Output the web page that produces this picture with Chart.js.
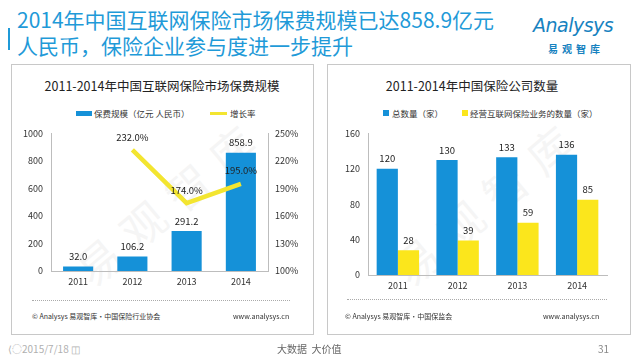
<!DOCTYPE html>
<html><head><meta charset="utf-8">
<script src="https://cdn.jsdelivr.net/npm/chart.js@4"></script>
<style>
body{margin:0;width:640px;height:360px;background:#fff;position:relative;overflow:hidden;font-family:"Noto Sans CJK SC","Noto Sans",sans-serif;}
.abs{position:absolute;white-space:nowrap;}
.box{position:absolute;border:1px solid #c8c8c8;background:#fff;}
.ctitle{position:absolute;font-size:12.5px;color:#222;text-align:center;}
.leg{position:absolute;font-size:8.5px;color:#333;}
.foot{position:absolute;font-size:7px;color:#333;}
.dots{position:absolute;height:0;border-top:1px dotted #aaa;}
.wm{position:absolute;font-size:44px;color:#000;opacity:0.035;transform:rotate(-40deg);transform-origin:left top;letter-spacing:14px;}
canvas{position:absolute;}
</style></head><body>
<div class="abs" style="left:8px;top:28px;width:2px;height:22px;background:#1f9ad8;"></div>
<div class="abs" style="left:17px;top:6px;font-size:21px;line-height:26px;color:#1f9ad8;">2014年中国互联网保险市场保费规模已达858.9亿元<br>人民币，保险企业参与度进一步提升</div>
<div class="abs" style="left:533px;top:14px;font-size:19px;font-style:italic;color:#1782c0;font-family:'DejaVu Sans';letter-spacing:-0.5px;">Analysys</div>
<div class="abs" style="left:548px;top:41px;font-size:10px;font-weight:bold;color:#1782c0;letter-spacing:4px;">易观智库</div>

<div class="box" style="left:11px;top:64px;width:301px;height:269px;"></div>
<div class="box" style="left:327px;top:64px;width:302px;height:269px;"></div>

<div class="ctitle" style="left:11px;top:76px;width:302px;">2011-2014年中国互联网保险市场保费规模</div>
<div class="ctitle" style="left:327px;top:76px;width:290px;">2011-2014年中国保险公司数量</div>

<div class="abs" style="left:76px;top:111px;width:16px;height:5px;background:#1591d8;"></div>
<div class="leg" style="left:94px;top:107px;">保费规模（亿元 人民币）</div>
<div class="abs" style="left:210px;top:112px;width:17px;height:3px;background:#f3e530;"></div>
<div class="leg" style="left:230px;top:107px;">增长率</div>

<div class="abs" style="left:383px;top:110px;width:6px;height:6px;background:#1591d8;"></div>
<div class="leg" style="left:392px;top:107px;">总数量（家）</div>
<div class="abs" style="left:462px;top:110px;width:6px;height:6px;background:#fbe61c;"></div>
<div class="leg" style="left:470px;top:107px;">经营互联网保险业务的数量（家）</div>

<div class="wm" style="left:60px;top:250px;">易观智库</div>
<div class="wm" style="left:378px;top:250px;">易观智库</div>

<canvas id="c1" width="300" height="178" style="left:11px;top:120px;"></canvas>
<canvas id="c2" width="300" height="182" style="left:327px;top:120px;"></canvas>

<div class="dots" style="left:32px;top:300px;width:258px;"></div>
<div class="dots" style="left:347px;top:299px;width:260px;"></div>
<div class="foot" style="left:32px;top:311px;">© Analysys 易观智库·中国保险行业协会</div>
<div class="foot" style="left:233px;top:311px;">www.analysys.cn</div>
<div class="foot" style="left:345px;top:311px;">© Analysys 易观智库·中国保监会</div>
<div class="foot" style="left:543px;top:311px;">www.analysys.cn</div>

<div class="abs" style="left:8px;top:341px;font-size:10px;color:#b0b0b0;">⟨◌2015/7/18 ◫</div>
<div class="abs" style="left:277px;top:341px;font-size:10px;color:#666;">大数据&nbsp;&nbsp;大价值</div>
<div class="abs" style="left:598px;top:341px;font-size:10px;color:#888;">31</div>

<script>
const years = ['2011','2012','2013','2014'];
const premium = [32.0, 106.2, 291.2, 858.9];
const growth = [null, 232.0, 174.0, 195.0];
const totalCompanies = [120, 130, 133, 136];
const onlineCompanies = [28, 39, 59, 85];
const leftAxis = {min:0, max:1000, step:200};
const rightAxis = {min:100, max:250, step:30};
const countAxis = {min:0, max:160, step:40};

const FONT = '"Noto Sans CJK SC","Noto Sans",sans-serif';
const BLUE = '#1591d8', YELLOW = '#f3e530', YBAR = '#fbe61c', AXIS = '#bdbdbd';

const valueLabels = {
  id:'valueLabels',
  afterDatasetsDraw(chart){
    const ctx = chart.ctx;
    ctx.save();
    ctx.font = '9.5px ' + FONT;
    ctx.fillStyle = '#222';
    ctx.textAlign = 'center';
    ctx.textBaseline = 'middle';
    chart.data.datasets.forEach((ds, i) => {
      const meta = chart.getDatasetMeta(i);
      meta.data.forEach((el, j) => {
        const v = ds.data[j];
        if (v === null || v === undefined) return;
        const txt = ds.fmt ? ds.fmt(v) : String(v);
        const off = ds.type === 'line' ? 13 : 10;
        ctx.fillText(txt, el.x, el.y - off);
      });
    });
    ctx.restore();
  }
};

function yScale(cfg, pos, width, pad, cb){
  return {
    position: pos, min: cfg.min, max: cfg.max,
    grid:{display:false, drawTicks:false}, border:{display:true, color:AXIS},
    ticks:{stepSize:cfg.step, padding:pad, color:'#333', font:{size:9, family:FONT}, callback: cb},
    afterFit(s){ s.width = width; }
  };
}
function xScale(h, pad){
  return {
    grid:{display:false, drawTicks:false}, border:{display:true, color:AXIS},
    ticks:{color:'#333', font:{size:9, family:FONT}, padding:pad},
    afterFit(s){ s.height = h; }
  };
}

new Chart(document.getElementById('c1'), {
  type:'bar',
  data:{
    labels: years,
    datasets:[
      {type:'line', data:growth, yAxisID:'y1', borderColor:YELLOW, borderWidth:4.5, pointRadius:0, tension:0, order:1, fmt:v=>v.toFixed(1)+'%'},
      {type:'bar', data:premium, yAxisID:'y', backgroundColor:BLUE, barPercentage:0.555, categoryPercentage:1, order:2, fmt:v=>v.toFixed(1)}
    ]
  },
  options:{
    responsive:false, animation:false, devicePixelRatio:1,
    layout:{padding:{top:7, left:0, right:0, bottom:0}},
    plugins:{legend:{display:false}, tooltip:{enabled:false}},
    scales:{
      x: xScale(27, 5),
      y: yScale(leftAxis, 'left', 40, 8),
      y1: yScale(rightAxis, 'right', 43, 7, v => v + '%')
    }
  },
  plugins:[valueLabels]
});

new Chart(document.getElementById('c2'), {
  type:'bar',
  data:{
    labels: years,
    datasets:[
      {data:totalCompanies, backgroundColor:BLUE, barPercentage:1, categoryPercentage:0.71},
      {data:onlineCompanies, backgroundColor:YBAR, barPercentage:1, categoryPercentage:0.71}
    ]
  },
  options:{
    responsive:false, animation:false, devicePixelRatio:1,
    layout:{padding:{top:13, left:0, right:20, bottom:0}},
    plugins:{legend:{display:false}, tooltip:{enabled:false}},
    scales:{
      x: xScale(27, 5),
      y: yScale(countAxis, 'left', 41, 8)
    }
  },
  plugins:[valueLabels]
});
</script>
</body></html>
